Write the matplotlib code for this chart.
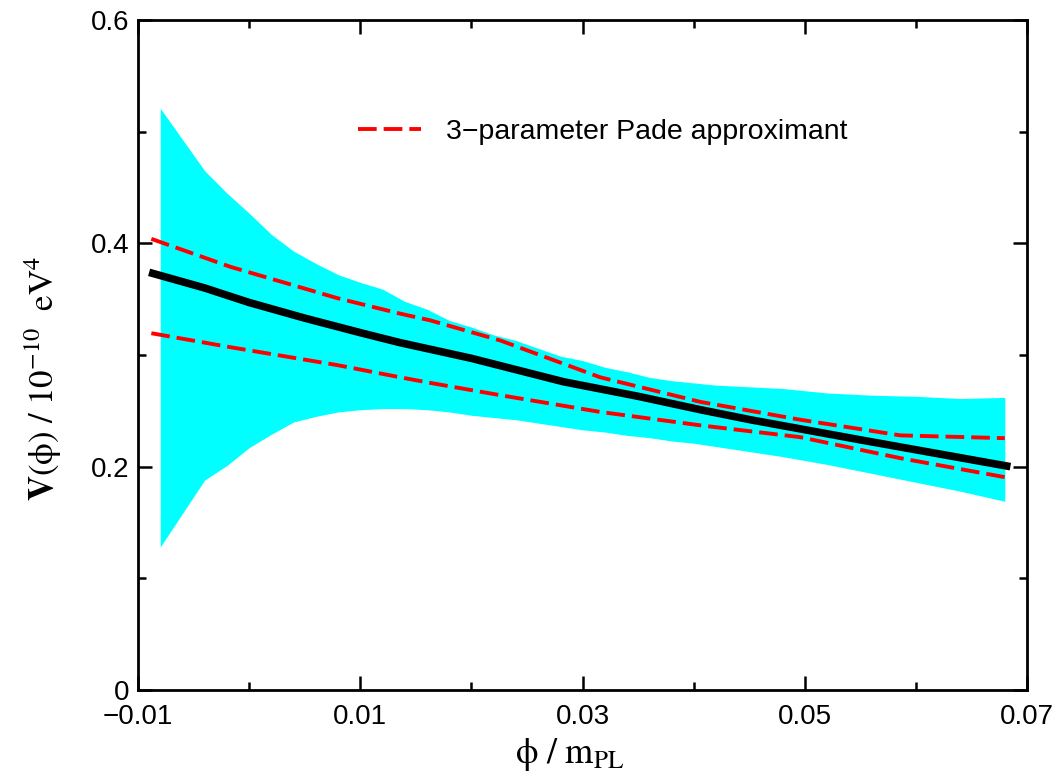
import numpy as np
import matplotlib
matplotlib.use("Agg")
import matplotlib.pyplot as plt
from matplotlib.ticker import MultipleLocator

plt.rcParams['font.family'] = ['Liberation Sans', 'DejaVu Sans']
plt.rcParams['mathtext.fontset'] = 'stix'

# uncertainty band (upper / lower edge)
band_x = [-0.008, -0.004, -0.002, 0.000, 0.002, 0.004, 0.006, 0.008, 0.010, 0.012,
          0.014, 0.016, 0.018, 0.020, 0.022, 0.024, 0.026, 0.028, 0.030, 0.032,
          0.034, 0.036, 0.038, 0.040, 0.042, 0.044, 0.048, 0.052, 0.056, 0.060,
          0.064, 0.068]
band_hi = [0.521, 0.465, 0.445, 0.427, 0.408, 0.393, 0.382, 0.372, 0.365, 0.359,
           0.348, 0.341, 0.331, 0.325, 0.318, 0.313, 0.306, 0.299, 0.295, 0.289,
           0.285, 0.280, 0.277, 0.275, 0.273, 0.272, 0.270, 0.266, 0.264, 0.263,
           0.261, 0.262]
band_lo = [0.128, 0.188, 0.201, 0.217, 0.229, 0.240, 0.245, 0.249, 0.251, 0.252,
           0.252, 0.251, 0.249, 0.246, 0.244, 0.242, 0.239, 0.236, 0.233, 0.231,
           0.228, 0.226, 0.223, 0.221, 0.218, 0.215, 0.209, 0.202, 0.194, 0.186,
           0.178, 0.169]

# central reconstruction
mid_x = [-0.009, -0.004, 0.000, 0.005, 0.010, 0.0136, 0.020, 0.0283, 0.035,
         0.0406, 0.0451, 0.055, 0.0685]
mid_y = [0.374, 0.360, 0.347, 0.333, 0.320, 0.311, 0.297, 0.276, 0.263,
         0.251, 0.242, 0.224, 0.200]

# Pade approximant bounds
pade_x = [-0.0088, -0.0017, 0.0079, 0.0136, 0.0163, 0.0226, 0.0316, 0.0406,
          0.0496, 0.0586, 0.068]
pade_hi = [0.404, 0.379, 0.351, 0.337, 0.331, 0.313, 0.280, 0.258,
           0.242, 0.228, 0.2255]
pade_lo = [0.3195, 0.307, 0.291, 0.280, 0.275, 0.264, 0.249, 0.237,
           0.2264, 0.2076, 0.1906]

fig = plt.figure(figsize=(10.55, 7.75), dpi=100)
ax = fig.add_axes([0.1308, 0.1097, 0.8427, 0.8645])

ax.fill_between(band_x, band_lo, band_hi, color='#00ffff', lw=0)
ax.plot(mid_x, mid_y, color='black', lw=5.5, solid_capstyle='butt')
dash = dict(color='#ff0000', lw=2.8, dashes=(4.8, 1.8))
ax.plot(pade_x, pade_hi, label='3\u2212parameter Pade approximant', **dash)
ax.plot(pade_x, pade_lo, **dash)

ax.set_xlim(-0.01, 0.07)
ax.set_ylim(0, 0.6)
ax.xaxis.set_minor_locator(MultipleLocator(0.01))
ax.yaxis.set_minor_locator(MultipleLocator(0.1))
ax.set_xticks([-0.01, 0.01, 0.03, 0.05, 0.07])
ax.set_xticklabels(['\u22120.01', '0.01', '0.03', '0.05', '0.07'])
ax.set_yticks([0, 0.2, 0.4, 0.6])
ax.set_yticklabels(['0', '0.2', '0.4', '0.6'])

ax.tick_params(which='both', direction='in', top=True, right=True, width=1.8,
               labelsize=20)
ax.tick_params(which='major', length=10)
ax.tick_params(which='minor', length=6)
ax.tick_params(axis='x', pad=10)
ax.tick_params(axis='y', pad=6)
for s in ax.spines.values():
    s.set_linewidth(2)

leg = ax.legend(loc='center left', bbox_to_anchor=(0.2475, 0.833),
                frameon=False, fontsize=20.5, handlelength=2.2,
                handletextpad=0.9, borderpad=0, borderaxespad=0)

fig.text(0.041, 0.512, r'$\mathbf{V}\mathrm{(\phi)\ /\ 10^{-10}\ \ eV^{4}}$',
         rotation=90, ha='center', va='center', fontsize=25)
fig.text(0.540, 0.0155, r'$\mathrm{\phi\ /\ m_{PL}}$',
         ha='center', va='baseline', fontsize=26)

fig.savefig('out.png', dpi=100)
